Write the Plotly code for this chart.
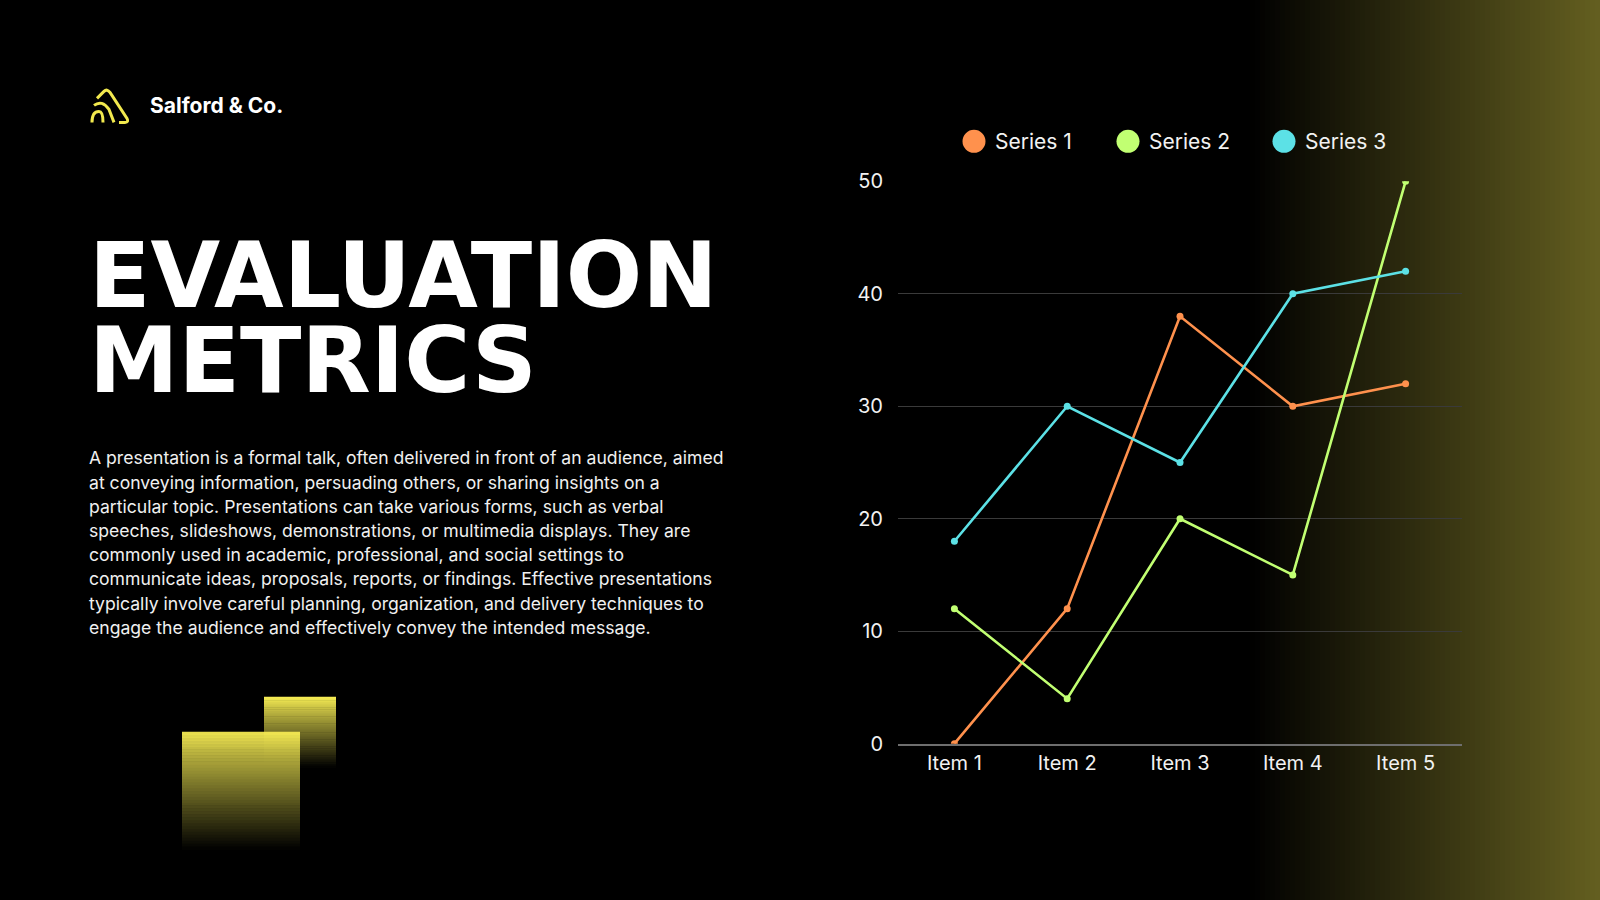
import plotly.graph_objects as go

# chart data
items = ["Item 1", "Item 2", "Item 3", "Item 4", "Item 5"]
series_names = ["Series 1", "Series 2", "Series 3"]
series_1 = [0, 12, 38, 30, 32]
series_2 = [12, 4, 20, 15, 50]
series_3 = [18, 30, 25, 40, 42]
series_colors = ["#FF914D", "#C1FF72", "#5CE1E6"]
y_ticks = [0, 10, 20, 30, 40, 50]

body_lines = [
    "A presentation is a formal talk, often delivered in front of an audience, aimed",
    "at conveying information, persuading others, or sharing insights on a",
    "particular topic. Presentations can take various forms, such as verbal",
    "speeches, slideshows, demonstrations, or multimedia displays. They are",
    "commonly used in academic, professional, and social settings to",
    "communicate ideas, proposals, reports, or findings. Effective presentations",
    "typically involve careful planning, organization, and delivery techniques to",
    "engage the audience and effectively convey the intended message.",
]

W, H = 1600, 900
# the plot ends up a little shorter than the window and centred in it
TOP, HC = 11.5, 877.0


def px(x):
    return x / W


def py(y):
    return 1 - (y - TOP) / HC


def blend(c1, c2, t):
    return "rgb(%d,%d,%d)" % tuple(round(a + (b - a) * t) for a, b in zip(c1, c2))


fig = go.Figure()

for name, vals, col in zip(series_names, [series_1, series_2, series_3], series_colors):
    fig.add_trace(go.Scatter(
        x=items, y=vals, name=name, mode="lines+markers",
        line=dict(color=col, width=2.6),
        marker=dict(color=col, size=7),
        showlegend=False,
    ))

shapes = []

# right side olive gradient
g0, g1, n = 1250, 1600, 70
olive = (100, 95, 32)
for i in range(n):
    x0 = g0 + (g1 - g0) * i / n
    x1 = g0 + (g1 - g0) * (i + 1) / n + 0.6
    shapes.append(dict(type="rect", xref="paper", yref="paper",
                       x0=px(x0), x1=px(x1), y0=-0.05, y1=1.05, layer="below",
                       line=dict(width=0),
                       fillcolor=blend((0, 0, 0), olive, (i + 0.5) / n)))


# yellow fading squares
def square(x0, x1, y0, y1, alpha):
    steps = 40
    for i in range(steps):
        ya = y0 + (y1 - y0) * i / steps
        yb = y0 + (y1 - y0) * (i + 1) / steps + 0.5
        t = (i + 0.5) / steps
        shapes.append(dict(type="rect", xref="paper", yref="paper",
                           x0=px(x0), x1=px(x1), y0=py(yb), y1=py(ya),
                           layer="below", line=dict(width=0), opacity=alpha,
                           fillcolor=blend((250, 240, 85), (0, 0, 0), t ** 0.9)))


square(264, 336, 697, 768, 1.0)
square(182, 300, 732, 850, 0.94)

# logo
logo_paths = [
    "M 92 122 Q 92 111 99 111 Q 103 111 103 122",
    "M 94 105 Q 102 99 109 109 L 114 122",
    "M 97 98 L 104 91 Q 107 88 110 92 L 127 118 Q 129 122 125 122 L 119 122",
]
for p in logo_paths:
    pts = p.split()
    out = []
    k = 0
    while k < len(pts):
        tok = pts[k]
        if tok in ("M", "L", "Q"):
            out.append(tok)
            k += 1
        else:
            out.append("%.5f,%.5f" % (px(float(pts[k])), py(float(pts[k + 1]))))
            k += 2
    shapes.append(dict(type="path", xref="paper", yref="paper",
                       path=" ".join(out), line=dict(color="#F2E94E", width=3)))

# legend circles
legend_x = [974, 1128, 1284]
legend_y = 141
for cx, col in zip(legend_x, series_colors):
    shapes.append(dict(type="circle", xref="paper", yref="paper",
                       xsizemode="pixel", ysizemode="pixel",
                       xanchor=px(cx), yanchor=py(legend_y),
                       x0=-11.5, x1=11.5, y0=-11.5, y1=11.5,
                       fillcolor=col, line=dict(width=0)))

annotations = []
for cx, name in zip(legend_x, series_names):
    annotations.append(dict(x=px(cx + 19), y=py(legend_y), xref="paper", yref="paper",
                            text=name, showarrow=False, xanchor="left", yanchor="middle",
                            font=dict(family="Inter", size=21, color="#F2F2F2")))

annotations.append(dict(x=px(148), y=py(105), xref="paper", yref="paper",
                        text="<b>Salford & Co.</b>", showarrow=False,
                        xanchor="left", yanchor="middle",
                        font=dict(family="Inter", size=21, color="#FFFFFF")))

for txt, cy in [("EVALUATION", 275), ("METRICS", 360)]:
    annotations.append(dict(x=px(87), y=py(cy), xref="paper", yref="paper",
                            text=txt, showarrow=False, xanchor="left", yanchor="middle",
                            height=80,
                            font=dict(family="DejaVu Sans", size=90, color="#FFFFFF",
                                      weight="bold")))

for k, line in enumerate(body_lines):
    annotations.append(dict(x=px(87), y=py(458 + k * 24.2), xref="paper", yref="paper",
                            text=line, showarrow=False, xanchor="left", yanchor="middle",
                            font=dict(family="Inter", size=17.6, color="#F0F0F0")))

fig.update_layout(
    width=W, height=H,
    paper_bgcolor="#000000", plot_bgcolor="rgba(0,0,0,0)",
    margin=dict(l=0, r=0, t=0, b=0),
    shapes=shapes, annotations=annotations,
    showlegend=False,
    xaxis=dict(domain=[px(898), px(1462)], range=[-0.5, 4.5],
               showgrid=False, zeroline=False,
               showline=True, linecolor="#6E6E6E", linewidth=1.5,
               ticks="", ticklabelstandoff=1,
               tickfont=dict(family="Inter", size=20, color="#F2F2F2")),
    yaxis=dict(domain=[py(744), py(181)], range=[0, 50],
               tickvals=y_ticks, showgrid=True, gridcolor="#3A3A3A", gridwidth=1,
               zeroline=False, showline=False, ticks="", ticklabelstandoff=14,
               tickfont=dict(family="Inter", size=20, color="#F2F2F2")),
)

page_bg = "linear-gradient(to right, #000 78.1%%, rgb(%d,%d,%d) 100%%)" % olive
fig.write_html(
    "out.html",
    config={"displayModeBar": False},
    post_script="var gd=document.getElementById('{plot_id}');"
                "document.documentElement.style.margin='0';"
                "document.documentElement.style.background='" + page_bg + "';"
                "document.documentElement.style.minHeight='100%';"
                "document.body.style.margin='0';"
                "document.body.style.overflow='hidden';"
                "gd.style.position='fixed';gd.style.left='0';gd.style.top='0';",
)
